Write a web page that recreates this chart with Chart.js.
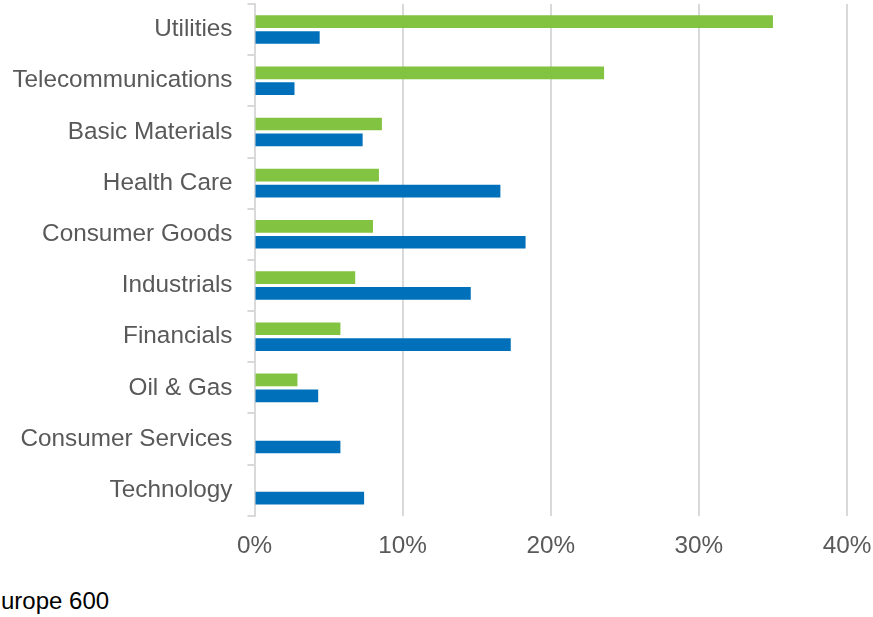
<!DOCTYPE html>
<html>
<head>
<meta charset="utf-8">
<script src="https://cdn.jsdelivr.net/npm/chart.js@4/dist/chart.umd.min.js"></script>
<style>
  html, body { margin:0; padding:0; background:#fff; }
  #wrap { position:relative; width:873px; height:617px; overflow:hidden; }
  #box { position:absolute; left:0; top:0; width:873px; height:577px; }
  #note { position:absolute; left:1px; top:587px; font:24px "Liberation Sans", Arial, sans-serif; color:#000; white-space:nowrap; }
</style>
</head>
<body>
<div id="wrap">
  <div id="box"><canvas id="chartSect"></canvas></div>
  <div id="note">urope 600</div>
</div>
<script>
const sectores = ['Utilities','Telecommunications','Basic Materials','Health Care','Consumer Goods',
                  'Industrials','Financials','Oil & Gas','Consumer Services','Technology']
const pesoVerde = [35.0, 23.6, 8.6, 8.4, 8.0, 6.8, 5.8, 2.9, null, null]
const pesoAzul  = [4.4, 2.7, 7.3, 16.6, 18.3, 14.6, 17.3, 4.3, 5.8, 7.4]
const ticksX    = [0, 10, 20, 30, 40]

const FONT = '"Liberation Sans", Arial, sans-serif'
const GRIS = '#d9d9d9'

new Chart(document.getElementById('chartSect'), {
  type: 'bar',
  data: {
    labels: sectores,
    datasets: [
      { label:'Portfolio',        data: pesoVerde, backgroundColor:'#82c341' },
      { label:'STOXX Europe 600', data: pesoAzul,  backgroundColor:'#0070bb' },
    ]
  },
  options: {
    indexAxis:'y',
    responsive:true, maintainAspectRatio:false, animation:false,
    categoryPercentage:0.62, barPercentage:0.8,
    layout:{ padding:{ top:4, right:26, left:0, bottom:0 } },
    plugins:{ legend:{ display:false }, tooltip:{ enabled:false } },
    scales:{
      x:{
        min:0, max:40,
        afterBuildTicks: s => { s.ticks = ticksX.map(v => ({ value:v })) },
        afterFit: s => { s.paddingLeft = 0; s.paddingRight = 0 },
        ticks:{ callback: v => v + '%', color:'#595959', padding:16, font:{ family:FONT, size:24.3 } },
        grid:{ color:GRIS, lineWidth:2, drawTicks:false },
        border:{ display:false }
      },
      y:{
        afterFit: s => { s.width = 254.5; s.paddingTop = 0; s.paddingBottom = 0 },
        ticks:{ color:'#595959', padding:15, font:{ family:FONT, size:24.3 } },
        grid:{ drawOnChartArea:false, color:GRIS, lineWidth:2, tickLength:7, offset:true },
        border:{ display:true, color:GRIS, width:2 }
      }
    }
  }
})
</script>
</body>
</html>
